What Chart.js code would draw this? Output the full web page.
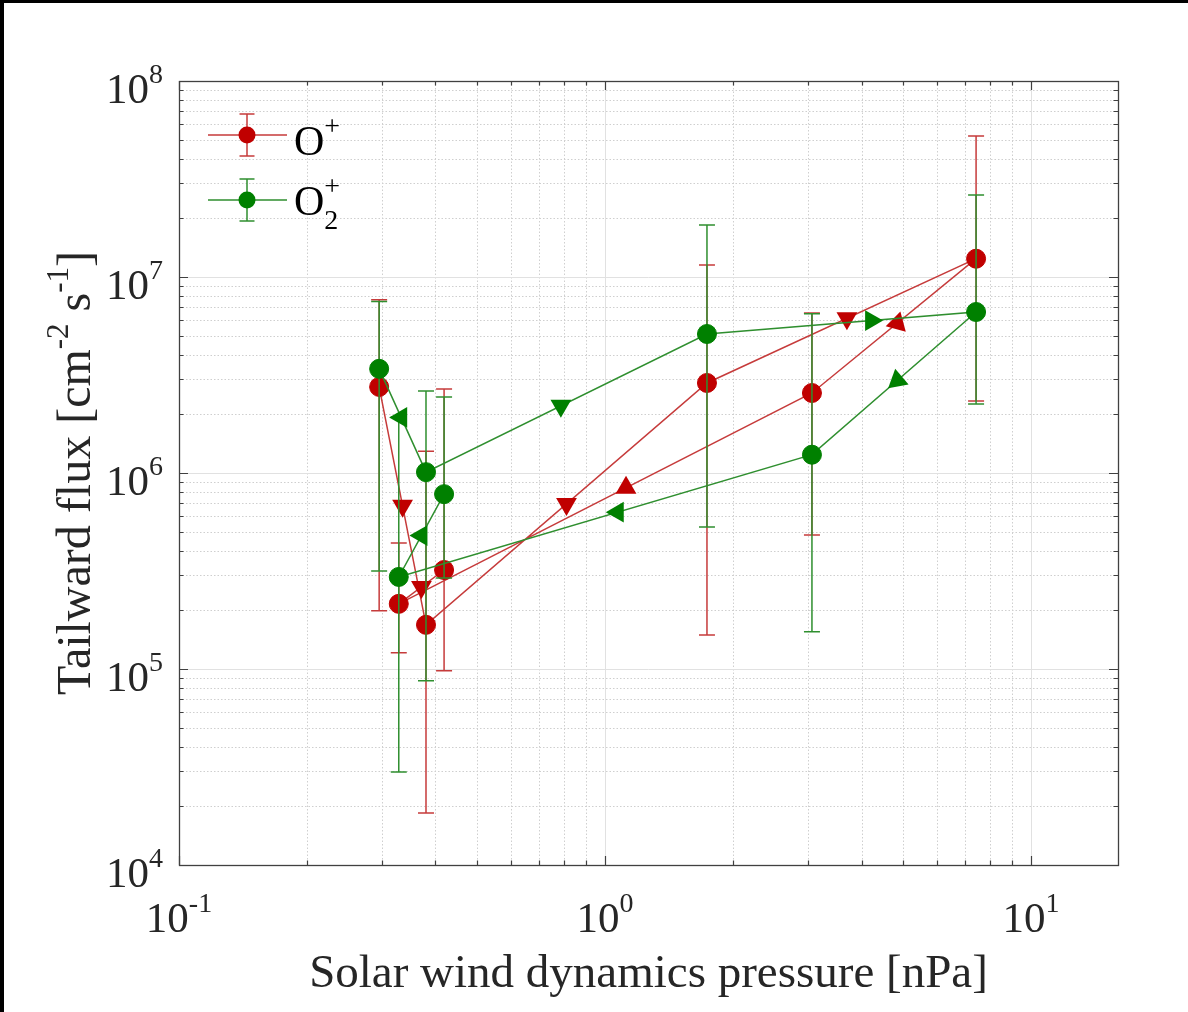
<!DOCTYPE html>
<html>
<head>
<meta charset="utf-8">
<script src="https://cdn.jsdelivr.net/npm/chart.js@4/dist/chart.umd.min.js"></script>
<style>
  html, body { margin: 0; padding: 0; background: #fff; }
  canvas { display: block; }
</style>
</head>
<body>
<canvas id="chart" width="1188" height="1012"></canvas>
<script>
"use strict";

// Loop in time order: solar wind pressure [nPa] and tailward flux [cm^-2 s^-1]
const pressure = [0.295, 0.380, 1.735, 7.43, 3.06, 0.328, 0.419];

const oFlux  = [2.75e6, 1.68e5, 2.88e6, 1.24e7, 2.56e6, 2.15e5, 3.2e5];
const oLow   = [1.98e5, 1.84e4, 1.49e5, 2.33e6, 4.83e5, 1.21e5, 9.8e4];
const oHigh  = [7.65e6, 1.29e6, 1.15e7, 5.24e7, 6.55e6, 4.4e5, 2.68e6];

const o2Flux = [3.40e6, 1.01e6, 5.12e6, 6.63e6, 1.24e6, 2.95e5, 7.8e5];
const o2Low  = [3.16e5, 8.7e4, 5.3e5, 2.25e6, 1.55e5, 2.98e4, 2.91e5];
const o2High = [7.5e6, 2.62e6, 1.84e7, 2.62e7, 6.5e6, 1.93e6, 2.44e6];

// tick labels are 10^n
const xTickExps = [-1, 0, 1];
const yTickExps = [4, 5, 6, 7, 8];

// arrow heads on each segment: where the tip points (deg, screen) and where along the segment
const redArrowTurn   = [90, 90, 90, -75, -90, 90];
const redArrowAt     = [0.5, 0.5, 0.52, 0.48, 0.45, 0.5];
const greenArrowTurn = [180, 90, 0, -100, 180, 180];
const greenArrowAt   = [0.47, 0.48, 0.61, 0.48, 0.47, 0.5];

const RED = '#c00000', RED_LINE = '#c63b3b';
const GREEN = '#008000', GREEN_LINE = '#2f8f2f';

function serif(px) { return px + 'px "Liberation Serif", "Times New Roman", serif'; }

// parts: [text, size, rise]
function richWidth(ctx, parts) {
  let w = 0;
  parts.forEach(function(p) { ctx.font = serif(p[1]); w += ctx.measureText(p[0]).width; });
  return w;
}

function drawRich(ctx, parts, x, y, align) {
  let w = richWidth(ctx, parts);
  let cx = align === 'center' ? x - w / 2 : (align === 'right' ? x - w : x);
  ctx.textAlign = 'left';
  ctx.textBaseline = 'alphabetic';
  parts.forEach(function(p) {
    ctx.font = serif(p[1]);
    ctx.fillText(p[0], cx, y - p[2]);
    cx += ctx.measureText(p[0]).width;
  });
}

function logMajors(min, max) {
  let out = [];
  for (let e = Math.floor(Math.log10(min)); e <= Math.ceil(Math.log10(max)); e++) {
    let v = Math.pow(10, e);
    if (v >= min * 0.999 && v <= max * 1.001) out.push(v);
  }
  return out;
}

function logMinors(min, max) {
  let out = [];
  for (let e = Math.floor(Math.log10(min)); e <= Math.ceil(Math.log10(max)); e++) {
    for (let m = 2; m <= 9; m++) {
      let v = m * Math.pow(10, e);
      if (v > min && v < max) out.push(v);
    }
  }
  return out;
}

function crisp(v) { return Math.round(v) + 0.5; }

const framePlugin = {
  id: 'frame',
  beforeDraw(chart) {
    const ctx = chart.ctx;
    ctx.save();
    ctx.fillStyle = '#fff';
    ctx.fillRect(0, 0, chart.width, chart.height);
    ctx.fillStyle = '#000';
    ctx.fillRect(0, 0, chart.width, 3);
    ctx.fillRect(0, 0, 4, chart.height);
    ctx.restore();
  },
  beforeDatasetsDraw(chart) {
    const ctx = chart.ctx, a = chart.chartArea;
    const sx = chart.scales.x, sy = chart.scales.y;
    ctx.save();
    ctx.lineWidth = 1;

    // minor grid, dotted
    ctx.strokeStyle = '#cfcfcf';
    ctx.setLineDash([1.5, 2]);
    logMinors(sx.min, sx.max).forEach(function(v) {
      let p = crisp(sx.getPixelForValue(v));
      ctx.beginPath(); ctx.moveTo(p, a.top); ctx.lineTo(p, a.bottom); ctx.stroke();
    });
    logMinors(sy.min, sy.max).forEach(function(v) {
      let p = crisp(sy.getPixelForValue(v));
      ctx.beginPath(); ctx.moveTo(a.left, p); ctx.lineTo(a.right, p); ctx.stroke();
    });

    // major grid, solid
    ctx.setLineDash([]);
    ctx.strokeStyle = '#e1e1e1';
    logMajors(sx.min, sx.max).forEach(function(v) {
      let p = crisp(sx.getPixelForValue(v));
      ctx.beginPath(); ctx.moveTo(p, a.top); ctx.lineTo(p, a.bottom); ctx.stroke();
    });
    logMajors(sy.min, sy.max).forEach(function(v) {
      let p = crisp(sy.getPixelForValue(v));
      ctx.beginPath(); ctx.moveTo(a.left, p); ctx.lineTo(a.right, p); ctx.stroke();
    });
    ctx.restore();
  },
  afterDraw(chart) {
    const ctx = chart.ctx, a = chart.chartArea;
    const sx = chart.scales.x, sy = chart.scales.y;
    ctx.save();

    // box and inward ticks on all four sides
    ctx.strokeStyle = '#404040';
    ctx.lineWidth = 1.3;
    ctx.strokeRect(crisp(a.left), crisp(a.top), Math.round(a.right - a.left), Math.round(a.bottom - a.top));
    ctx.lineWidth = 1.2;
    function xTick(v, len) {
      let p = crisp(sx.getPixelForValue(v));
      ctx.beginPath();
      ctx.moveTo(p, a.bottom); ctx.lineTo(p, a.bottom - len);
      ctx.moveTo(p, a.top); ctx.lineTo(p, a.top + len);
      ctx.stroke();
    }
    function yTick(v, len) {
      let p = crisp(sy.getPixelForValue(v));
      ctx.beginPath();
      ctx.moveTo(a.left, p); ctx.lineTo(a.left + len, p);
      ctx.moveTo(a.right, p); ctx.lineTo(a.right - len, p);
      ctx.stroke();
    }
    logMinors(sx.min, sx.max).forEach(function(v) { xTick(v, 4.5); });
    logMajors(sx.min, sx.max).forEach(function(v) { xTick(v, 9); });
    logMinors(sy.min, sy.max).forEach(function(v) { yTick(v, 4.5); });
    logMajors(sy.min, sy.max).forEach(function(v) { yTick(v, 9); });

    // tick labels
    ctx.fillStyle = '#262626';
    xTickExps.forEach(function(e) {
      let p = sx.getPixelForValue(Math.pow(10, e));
      drawRich(ctx, [['10', 43, 0], [String(e), 28, 20]], p, a.bottom + 67, 'center');
    });
    yTickExps.forEach(function(e) {
      let p = sy.getPixelForValue(Math.pow(10, e));
      drawRich(ctx, [['10', 43, 0], [String(e), 28, 20]], a.left - 16, p + 22, 'right');
    });

    // axis titles
    drawRich(ctx, [['Solar wind dynamics pressure [nPa]', 47, 0]], (a.left + a.right) / 2, a.bottom + 122, 'center');
    ctx.save();
    ctx.translate(90, (a.top + a.bottom) / 2);
    ctx.rotate(-Math.PI / 2);
    drawRich(ctx, [['Tailward flux [cm', 48, 0], ['-2', 31, 22], [' s', 48, 0], ['-1', 31, 22], [']', 48, 0]], 0, 0, 'center');
    ctx.restore();

    // legend
    const entries = [
      { line: RED_LINE, mark: RED, y: a.top + 54, base: a.top + 74, sub: null },
      { line: GREEN_LINE, mark: GREEN, y: a.top + 119, base: a.top + 134, sub: '2' }
    ];
    entries.forEach(function(en) {
      let lx0 = a.left + 29, lx1 = a.left + 108, mx = a.left + 68;
      ctx.strokeStyle = en.line;
      ctx.lineWidth = 1.5;
      ctx.beginPath();
      ctx.moveTo(lx0, en.y); ctx.lineTo(lx1, en.y);
      ctx.moveTo(mx, en.y - 21); ctx.lineTo(mx, en.y + 21);
      ctx.moveTo(mx - 7.5, en.y - 21); ctx.lineTo(mx + 7.5, en.y - 21);
      ctx.moveTo(mx - 7.5, en.y + 21); ctx.lineTo(mx + 7.5, en.y + 21);
      ctx.stroke();
      ctx.fillStyle = en.mark;
      ctx.beginPath(); ctx.arc(mx, en.y, 8.5, 0, Math.PI * 2); ctx.fill();

      ctx.fillStyle = '#000';
      ctx.textAlign = 'left';
      ctx.textBaseline = 'alphabetic';
      let tx = a.left + 115;
      ctx.font = serif(42);
      ctx.fillText('O', tx, en.base);
      let w = ctx.measureText('O').width;
      ctx.font = serif(28);
      ctx.fillText('+', tx + w, en.base - 20);
      if (en.sub) ctx.fillText(en.sub, tx + w, en.base + 14);
    });

    ctx.restore();
  }
};

const errorBarPlugin = {
  id: 'errorBars',
  beforeDatasetDraw(chart, args) {
    const ds = chart.data.datasets[args.index];
    if (!ds.low) return;
    const ctx = chart.ctx, sx = chart.scales.x, sy = chart.scales.y;
    ctx.save();
    ctx.strokeStyle = ds.borderColor;
    ctx.lineWidth = 1.5;
    ds.data.forEach(function(pt, i) {
      let px = sx.getPixelForValue(pt.x);
      let lo = sy.getPixelForValue(ds.low[i]);
      let hi = sy.getPixelForValue(ds.high[i]);
      ctx.beginPath();
      ctx.moveTo(px, lo); ctx.lineTo(px, hi);
      ctx.moveTo(px - 8, lo); ctx.lineTo(px + 8, lo);
      ctx.moveTo(px - 8, hi); ctx.lineTo(px + 8, hi);
      ctx.stroke();
    });
    ctx.restore();
  },
  afterDatasetDraw(chart, args) {
    const ds = chart.data.datasets[args.index];
    if (!ds.arrowTurn) return;
    const ctx = chart.ctx, sx = chart.scales.x, sy = chart.scales.y;
    const R = 12;
    ctx.save();
    ctx.fillStyle = ds.pointBackgroundColor;
    for (let i = 0; i < ds.data.length - 1; i++) {
      let x0 = sx.getPixelForValue(ds.data[i].x), y0 = sy.getPixelForValue(ds.data[i].y);
      let x1 = sx.getPixelForValue(ds.data[i + 1].x), y1 = sy.getPixelForValue(ds.data[i + 1].y);
      let f = ds.arrowAt[i];
      let cx = x0 + (x1 - x0) * f, cy = y0 + (y1 - y0) * f;
      let t = ds.arrowTurn[i] * Math.PI / 180;
      ctx.beginPath();
      for (let k = 0; k < 3; k++) {
        let ang = t + k * 2 * Math.PI / 3;
        ctx.lineTo(cx + R * Math.cos(ang), cy + R * Math.sin(ang));
      }
      ctx.closePath();
      ctx.fill();
    }
    ctx.restore();
  }
};

function points(ys) {
  return pressure.map(function(p, i) { return { x: p, y: ys[i] }; });
}

new Chart(document.getElementById('chart'), {
  type: 'scatter',
  data: {
    datasets: [
      {
        label: 'O+',
        data: points(oFlux),
        low: oLow, high: oHigh,
        arrowTurn: redArrowTurn, arrowAt: redArrowAt,
        showLine: true,
        borderColor: RED_LINE,
        borderWidth: 1.5,
        pointRadius: 9.5,
        pointBackgroundColor: RED,
        pointBorderColor: RED,
        pointBorderWidth: 1,
        order: 2
      },
      {
        label: 'O2+',
        data: points(o2Flux),
        low: o2Low, high: o2High,
        arrowTurn: greenArrowTurn, arrowAt: greenArrowAt,
        showLine: true,
        borderColor: GREEN_LINE,
        borderWidth: 1.5,
        pointRadius: 9.5,
        pointBackgroundColor: GREEN,
        pointBorderColor: GREEN,
        pointBorderWidth: 1,
        order: 1
      }
    ]
  },
  options: {
    responsive: false,
    animation: false,
    devicePixelRatio: 1,
    layout: { padding: { left: 179, top: 81, right: 70, bottom: 147 } },
    plugins: { legend: { display: false }, tooltip: { enabled: false } },
    scales: {
      x: { type: 'logarithmic', min: 0.1, max: 16, display: false },
      y: { type: 'logarithmic', min: 1e4, max: 1e8, display: false }
    }
  },
  plugins: [framePlugin, errorBarPlugin]
});
</script>
</body>
</html>
